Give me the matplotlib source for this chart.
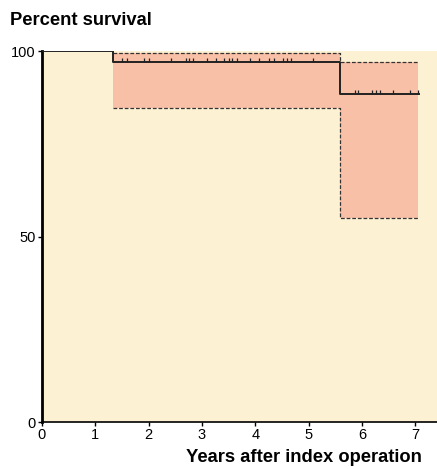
import numpy as np
import matplotlib
matplotlib.use("Agg")
from matplotlib import pyplot as plt

# Kaplan-Meier estimate
step_times = [0, 1.34, 5.59, 7.08]
survival = [100, 97.2, 88.4, 88.4]

# 95% confidence band (starts at first event)
ci_times = [1.34, 5.59, 7.06]
ci_upper = [99.6, 97.2, 97.2]
ci_lower = [84.6, 55.1, 55.1]

# censored observations
censor_first = [1.51, 1.59, 1.92, 2.00, 2.42, 2.70, 2.76, 2.84, 3.09, 3.26,
                3.42, 3.50, 3.57, 3.66, 3.91, 4.08, 4.26, 4.35, 4.53, 4.60,
                4.68, 5.09]
censor_second = [5.87, 5.93, 6.19, 6.27, 6.34, 6.58, 6.90, 7.06]

x_ticks = [0, 1, 2, 3, 4, 5, 6, 7]
y_ticks = [0, 50, 100]

plt.rcParams["font.family"] = ["Liberation Sans", "DejaVu Sans"]

fig = plt.figure(figsize=(4.37, 4.69), dpi=100)
ax = fig.add_axes([0.096, 0.1, 0.904, 0.791])
ax.set_facecolor("#fdf1d3")

ax.fill_between(ci_times, ci_lower, ci_upper, step="post",
                color="#f9c0a8", lw=0, zorder=1)
ax.step(ci_times, ci_upper, where="post", color="#333333",
        lw=0.9, ls=(0, (3, 1.5)), zorder=2)
ax.step(ci_times, ci_lower, where="post", color="#333333",
        lw=0.9, ls=(0, (3, 1.5)), zorder=2)

ax.step(step_times, survival, where="post", color="#222222", lw=1.4, zorder=3)

ax.plot(censor_first, [survival[1]] * len(censor_first), ls="none",
        marker=2, ms=3, mew=0.9, color="#222222", zorder=4)
ax.plot(censor_second, [survival[2]] * len(censor_second), ls="none",
        marker=2, ms=3, mew=0.9, color="#222222", zorder=4)

ax.set_xlim(0, 7.41)
ax.set_ylim(0, 100)
ax.set_xticks(x_ticks)
ax.set_yticks(y_ticks)
ax.tick_params(length=3, width=1, pad=1.5, labelsize=10.5)

for side in ["top", "right"]:
    ax.spines[side].set_visible(False)
ax.spines["left"].set_linewidth(2)
ax.spines["bottom"].set_linewidth(1.2)

fig.text(0.022, 0.957, "Percent survival", fontsize=13.2, fontweight="bold",
         ha="left", va="center")
fig.text(0.966, 0.024, "Years after index operation", fontsize=13.2,
         fontweight="bold", ha="right", va="center")

fig.savefig("out.png", dpi=100)
